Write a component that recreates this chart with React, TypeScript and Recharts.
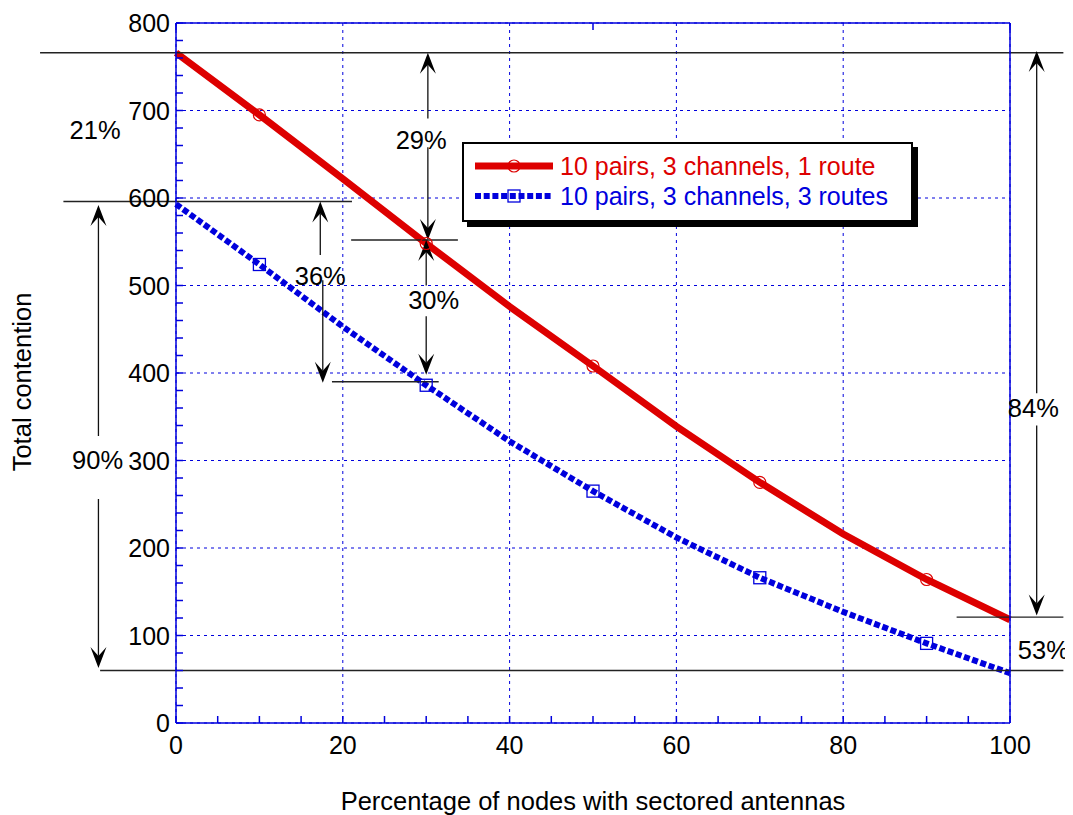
import React from "react";
import {
  LineChart,
  Line,
  XAxis,
  YAxis,
  CartesianGrid,
  ReferenceLine,
  ReferenceDot,
  Legend,
} from "recharts";

// percentage of nodes with sectored antennas
const xValues = [0, 10, 20, 30, 40, 50, 60, 70, 80, 90, 100];
// total contention
const oneRoute = [766, 695, 622, 548, 476, 408, 339, 275, 216, 164, 118];
const threeRoutes = [593, 524, 453, 386, 322, 265, 212, 166, 127, 91, 57];
const markerX = [10, 30, 50, 70, 90];

const seriesNames = ["10 pairs, 3 channels, 1 route", "10 pairs, 3 channels, 3 routes"];

const xMajorTicks = [0, 20, 40, 60, 80, 100];
const yMajorTicks = [0, 100, 200, 300, 400, 500, 600, 700, 800];
const xMinorTicks = Array.from({ length: 21 }, (_, i) => i * 5);
const yMinorTicks = Array.from({ length: 41 }, (_, i) => i * 20);

// annotation guide lines (data coords)
const guideLines = [
  { x1: -16.3, y1: 766, x2: 106.4, y2: 766 },
  { x1: -13.5, y1: 596, x2: 21.1, y2: 596 },
  { x1: 18.7, y1: 390, x2: 31.5, y2: 390 },
  { x1: 21, y1: 552, x2: 33.8, y2: 552 },
  { x1: -9.1, y1: 60, x2: 106.4, y2: 60 },
  { x1: 93.6, y1: 121, x2: 106.4, y2: 121 },
];

// arrows: from -> to (tip)
const arrows = [
  { x: 17.3, from: 535, to: 596 },
  { x: 17.6, from: 506, to: 389 },
  { x: 30.2, from: 691, to: 766 },
  { x: 30.2, from: 658, to: 552 },
  { x: 30.0, from: 500, to: 552 },
  { x: 30.0, from: 465, to: 398 },
  { x: -9.3, from: 328, to: 592 },
  { x: -9.3, from: 256, to: 63 },
  { x: 103.2, from: 377, to: 768 },
  { x: 103.2, from: 340, to: 123 },
];

const percentLabels = [
  { text: "21%", x: -9.7, y: 678 },
  { text: "29%", x: 29.4, y: 666 },
  { text: "36%", x: 17.3, y: 511 },
  { text: "30%", x: 30.9, y: 483 },
  { text: "90%", x: -9.4, y: 301 },
  { text: "84%", x: 102.8, y: 360 },
  { text: "53%", x: 104, y: 83 },
];

const data = xValues.map((x, i) => ({ x, oneRoute: oneRoute[i], threeRoutes: threeRoutes[i] }));

const RED = "#dd0000";
const BLUE = "#0000dd";
const TICK = 7;
const isMajorX = (v: number) => xMajorTicks.includes(v);
const isMajorY = (v: number) => yMajorTicks.includes(v);

const arrowShape = (p: any) => {
  const { x1, y1, x2, y2 } = p;
  const dx = x2 - x1;
  const dy = y2 - y1;
  const len = Math.hypot(dx, dy) || 1;
  const ux = dx / len;
  const uy = dy / len;
  const nx = -uy;
  const ny = ux;
  const L = 21;
  const W = 8;
  const N = 12;
  const pts = [
    [x2, y2],
    [x2 - ux * L + nx * W, y2 - uy * L + ny * W],
    [x2 - ux * N, y2 - uy * N],
    [x2 - ux * L - nx * W, y2 - uy * L - ny * W],
  ]
    .map((q) => q.join(","))
    .join(" ");
  return (
    <g>
      <line x1={x1} y1={y1} x2={x2 - ux * N} y2={y2 - uy * N} stroke="#111" strokeWidth={1.3} />
      <polygon points={pts} fill="#000" />
    </g>
  );
};

const LegendBox = () => (
  <div
    style={{
      boxSizing: "border-box",
      width: 451,
      height: 80,
      border: "2px solid #000",
      boxShadow: "5px 5px 0 #000",
      background: "#fff",
      position: "relative",
      fontSize: 25,
    }}
  >
    {seriesNames.map((name, i) => {
      const color = i === 0 ? RED : BLUE;
      return (
        <div
          key={name}
          style={{ position: "absolute", left: 11, top: 7 + i * 30, height: 30, display: "flex", alignItems: "center" }}
        >
          <svg width={78} height={30}>
            <line
              x1={0}
              y1={15}
              x2={78}
              y2={15}
              stroke={color}
              strokeWidth={i === 0 ? 7 : 6}
              strokeDasharray={i === 0 ? undefined : "6 2.7"}
            />
            {i === 0 ? (
              <circle cx={39} cy={15} r={6} fill="none" stroke={RED} strokeWidth={1.2} />
            ) : (
              <rect x={33} y={9} width={12} height={12} fill="none" stroke={BLUE} strokeWidth={1.3} />
            )}
          </svg>
          <span style={{ color, marginLeft: 7, whiteSpace: "nowrap", lineHeight: "30px" }}>{name}</span>
        </div>
      );
    })}
  </div>
);

const tickLine = (x1: number, y1: number, x2: number, y2: number) => (
  <line x1={x1} y1={y1} x2={x2} y2={y2} stroke={BLUE} strokeWidth={1.5} />
);

export default function App() {
  return (
    <div style={{ position: "relative", width: 1057, height: 807, fontFamily: "'Liberation Sans', Arial, sans-serif" }}>
      <style>{"svg.recharts-surface{overflow:visible}"}</style>
      <LineChart width={1057} height={807} data={data} margin={{ top: 14, right: 54, bottom: 52, left: 108 }}>
        <CartesianGrid
          verticalValues={xMajorTicks}
          horizontalValues={yMajorTicks}
          stroke={BLUE}
          strokeDasharray="3 4"
          strokeWidth={1}
        />
        <XAxis
          type="number"
          dataKey="x"
          domain={[0, 100]}
          ticks={xMinorTicks}
          interval={0}
          height={40}
          tickSize={0}
          tickMargin={0}
          axisLine={{ stroke: BLUE, strokeWidth: 1.5 }}
          tick={(p: any) => (
            <g key={p.index}>
              {tickLine(p.x, p.y, p.x, p.y - TICK)}
              {isMajorX(p.payload.value) && (
                <text x={p.x} y={p.y + 31} textAnchor="middle" fontSize={25} fill="#000">
                  {p.payload.value}
                </text>
              )}
            </g>
          )}
        />
        <XAxis
          xAxisId="top"
          orientation="top"
          type="number"
          domain={[0, 100]}
          ticks={xMinorTicks}
          interval={0}
          height={1}
          tickSize={0}
          tickMargin={0}
          axisLine={{ stroke: BLUE, strokeWidth: 1.5 }}
          tick={(p: any) => <g key={p.index}>{tickLine(p.x, p.y, p.x, p.y + TICK)}</g>}
        />
        <YAxis
          type="number"
          domain={[0, 800]}
          ticks={yMinorTicks}
          interval={0}
          width={60}
          tickSize={0}
          tickMargin={0}
          axisLine={{ stroke: BLUE, strokeWidth: 1.5 }}
          tick={(p: any) => (
            <g key={p.index}>
              {tickLine(p.x, p.y, p.x + TICK, p.y)}
              {isMajorY(p.payload.value) && (
                <text x={p.x - 6} y={p.y + 9} textAnchor="end" fontSize={25} fill="#000">
                  {p.payload.value}
                </text>
              )}
            </g>
          )}
        />
        <YAxis
          yAxisId="right"
          orientation="right"
          type="number"
          domain={[0, 800]}
          ticks={yMinorTicks}
          interval={0}
          width={1}
          tickSize={0}
          tickMargin={0}
          axisLine={{ stroke: BLUE, strokeWidth: 1.5 }}
          tick={(p: any) => <g key={p.index}>{tickLine(p.x, p.y, p.x - TICK, p.y)}</g>}
        />
        <Line
          dataKey="oneRoute"
          name={seriesNames[0]}
          stroke={RED}
          strokeWidth={7}
          isAnimationActive={false}
          dot={(p: any) =>
            markerX.includes(p.payload.x) ? (
              <circle key={p.index} cx={p.cx} cy={p.cy} r={6} fill="none" stroke={RED} strokeWidth={1.2} />
            ) : (
              <g key={p.index} />
            )
          }
          activeDot={false}
        />
        <Line
          dataKey="threeRoutes"
          name={seriesNames[1]}
          stroke={BLUE}
          strokeWidth={6}
          strokeDasharray="6 2.7"
          isAnimationActive={false}
          dot={(p: any) =>
            markerX.includes(p.payload.x) ? (
              <rect
                key={p.index}
                x={p.cx - 6}
                y={p.cy - 6}
                width={12}
                height={12}
                fill="none"
                stroke={BLUE}
                strokeWidth={1.3}
              />
            ) : (
              <g key={p.index} />
            )
          }
          activeDot={false}
        />
        {guideLines.map((g, i) => (
          <ReferenceLine
            key={"g" + i}
            segment={[
              { x: g.x1, y: g.y1 },
              { x: g.x2, y: g.y2 },
            ]}
            ifOverflow="visible"
            stroke="#222"
            strokeWidth={1.3}
          />
        ))}
        {arrows.map((a, i) => (
          <ReferenceLine
            key={"a" + i}
            segment={[
              { x: a.x, y: a.from },
              { x: a.x, y: a.to },
            ]}
            ifOverflow="visible"
            shape={arrowShape}
          />
        ))}
        {percentLabels.map((l) => (
          <ReferenceDot
            key={l.text}
            x={l.x}
            y={l.y}
            r={0}
            fill="none"
            stroke="none"
            ifOverflow="visible"
            label={{ value: l.text, position: "center", fontSize: 25.5, fill: "#000" }}
          />
        ))}
        <Legend
          layout="vertical"
          align="center"
          verticalAlign="middle"
          content={() => <LegendBox />}
          wrapperStyle={{ position: "absolute", left: 454, top: 134, width: "auto", height: "auto" }}
        />
      </LineChart>
      <div
        style={{
          position: "absolute",
          left: 585,
          top: 793,
          transform: "translate(-50%, -50%)",
          fontSize: 25.5,
          whiteSpace: "nowrap",
        }}
      >
        Percentage of nodes with sectored antennas
      </div>
      <div
        style={{
          position: "absolute",
          left: 14,
          top: 374,
          transform: "translate(-50%, -50%) rotate(-90deg)",
          fontSize: 25.5,
          whiteSpace: "nowrap",
        }}
      >
        Total contention
      </div>
    </div>
  );
}
